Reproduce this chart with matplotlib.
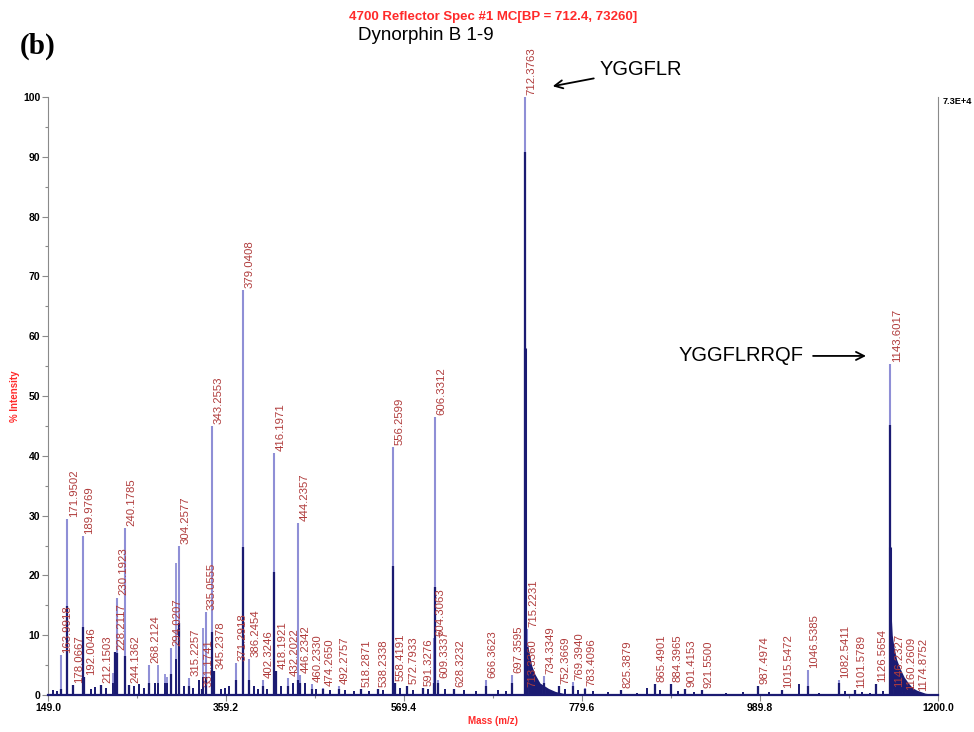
import matplotlib
matplotlib.use('Agg')
import matplotlib.pyplot as plt
from matplotlib.ticker import FixedLocator, MultipleLocator

plt.rcParams['font.family'] = ['Liberation Sans', 'DejaVu Sans']

# ---- labelled peaks: m/z, % intensity, height of the dark (dense) core ----
peak_mz = [163.9918, 171.9502, 178.0667, 189.9769, 192.0046, 212.1503, 228.2117,
           230.1923, 240.1785, 244.1362, 268.2124, 294.0207, 304.2577, 315.2257,
           331.1741, 335.0555, 343.2553, 345.2378, 371.2918, 379.0408, 386.2454,
           402.3246, 416.1971, 418.1921, 432.2022, 444.2357, 446.2342, 460.2330,
           474.2650, 492.2757, 518.2871, 538.2338, 556.2599, 558.4191, 572.7933,
           591.3276, 604.3063, 606.3312, 609.3337, 628.3232, 666.3623, 697.3595,
           712.3763, 713.3360, 715.2231, 734.3349, 752.3669, 769.3940, 783.4096,
           825.3879, 865.4901, 884.3965, 901.4153, 921.5500, 987.4974, 1015.5472,
           1046.5385, 1082.5411, 1101.5789, 1126.5654, 1143.6017, 1146.2327,
           1160.2609, 1174.8752]
peak_int = [6.7, 29.4, 1.7, 26.6, 3.0, 1.7, 7.2,
            16.3, 27.9, 1.7, 5.0, 7.8, 24.9, 2.8,
            1.0, 13.9, 45.0, 4.0, 5.4, 67.7, 6.0,
            2.5, 40.5, 4.0, 2.8, 28.7, 3.3, 1.8,
            1.2, 1.5, 1.0, 1.0, 41.5, 2.0, 1.5,
            1.2, 9.5, 46.5, 2.5, 1.0, 2.5, 3.3,
            100.0, 1.0, 11.0, 3.2, 1.5, 2.2, 1.2,
            0.8, 1.8, 1.8, 1.0, 0.8, 1.5, 0.8,
            4.2, 2.5, 0.8, 1.8, 55.3, 1.0,
            0.5, 0.3]
peak_core = [1.0, 14.9, 1.7, 11.4, 3.0, 1.7, 7.2,
             7.0, 6.5, 1.7, 2.0, 3.5, 12.0, 1.5,
             1.0, 3.0, 10.6, 4.0, 2.5, 24.8, 2.5,
             1.5, 20.6, 4.0, 1.5, 2.5, 2.0, 1.0,
             1.0, 1.0, 1.0, 1.0, 21.6, 2.0, 1.5,
             1.2, 2.0, 18.1, 2.0, 1.0, 1.5, 2.0,
             90.8, 1.0, 8.0, 2.0, 1.5, 1.5, 1.0,
             0.8, 1.8, 1.8, 1.0, 0.8, 1.5, 0.8,
             1.5, 2.0, 0.8, 1.8, 45.2, 1.0,
             0.5, 0.3]

# ---- unlabelled peaks ----
extra_mz = [155, 160, 200, 205, 218, 225.8, 250, 257, 262, 275, 279.3, 287, 290,
            299.8, 310, 320, 327.7, 332.4, 353, 358, 363, 392, 397, 408, 424, 438,
            452, 466, 482, 500, 510, 528, 545, 565, 580, 598, 618, 640, 655, 680,
            690, 760, 775, 793, 810, 845, 856, 872, 893, 912, 950, 970, 1000, 1036,
            1060, 1090, 1110, 1120, 1135]
extra_int = [0.8, 0.6, 1.0, 1.3, 1.2, 3.6, 1.5, 1.8, 1.2, 2.0, 5.0, 3.5, 3.0,
             22.1, 1.5, 1.2, 2.5, 11.2, 1.0, 1.2, 1.5, 1.5, 1.0, 1.0, 1.5, 2.0,
             2.0, 1.0, 0.8, 0.8, 0.6, 0.7, 0.8, 1.2, 0.8, 1.0, 1.0, 0.8, 0.6, 0.8,
             0.6, 1.0, 0.8, 0.6, 0.5, 0.4, 1.2, 0.8, 0.6, 0.5, 0.4, 0.5, 0.5, 1.8,
             0.4, 0.6, 0.5, 0.4, 0.6]
extra_core = [0.8, 0.6, 1.0, 1.3, 1.2, 2.0, 1.5, 1.8, 1.2, 2.0, 2.0, 2.0, 2.0,
              6.0, 1.5, 1.2, 2.5, 3.0, 1.0, 1.2, 1.5, 1.5, 1.0, 1.0, 1.5, 2.0,
              2.0, 1.0, 0.8, 0.8, 0.6, 0.7, 0.8, 1.2, 0.8, 1.0, 1.0, 0.8, 0.6, 0.8,
              0.6, 1.0, 0.8, 0.6, 0.5, 0.4, 1.2, 0.8, 0.6, 0.5, 0.4, 0.5, 0.5, 1.8,
              0.4, 0.6, 0.5, 0.4, 0.6]

# ---- peak tails (dense profile after the two main ions) ----
tail1_mz = [712.4, 713.5, 716, 720, 724, 730, 740, 748, 760, 775]
tail1_int = [15.0, 10.0, 8.0, 5.0, 3.5, 2.0, 1.1, 0.6, 0.2, 0.0]
tail2_mz = [1143.6, 1144.5, 1146, 1148, 1151, 1155, 1160, 1165, 1170, 1175, 1185, 1195]
tail2_int = [15.0, 14.0, 10.0, 8.0, 6.0, 4.5, 3.0, 2.0, 1.2, 0.8, 0.3, 0.1]

x_ticks = [149.0, 359.2, 569.4, 779.6, 989.8, 1200.0]
x_tick_labels = ['149.0', '359.2', '569.4', '779.6', '989.8', '1200.0']
y_ticks = [0, 10, 20, 30, 40, 50, 60, 70, 80, 90, 100]

LIGHT = '#8f8fd6'
DARK = '#1b1b72'
LABEL = '#b03c3c'
RED = '#ff2a2a'

fig = plt.figure(figsize=(9.74, 7.32), dpi=100)
ax = fig.add_axes([48 / 974, 37 / 732, 890 / 974, 598 / 732])
ax.set_xlim(149.0, 1200.0)
ax.set_ylim(0, 100)

ax.vlines(extra_mz, 0, extra_int, colors=LIGHT, lw=1.3)
ax.vlines(extra_mz, 0, extra_core, colors=DARK, lw=1.4)
ax.vlines(peak_mz, 0, peak_int, colors=LIGHT, lw=1.5)
ax.vlines(peak_mz, 0, peak_core, colors=DARK, lw=1.6)
ax.fill_between(tail1_mz, 0, tail1_int, color=DARK, lw=0)
ax.fill_between(tail2_mz, 0, tail2_int, color=DARK, lw=0)
ax.vlines([712.3763], 0, [58.0], colors=DARK, lw=2.2)
ax.vlines([1143.6017], 0, [24.7], colors=DARK, lw=2.2)

for mz, h in zip(peak_mz, peak_int):
    ax.annotate(f'{mz:.4f}', xy=(mz, h), xytext=(1.0, 1.5), textcoords='offset points',
                rotation=90, ha='left', va='bottom', fontsize=8.2, color=LABEL,
                annotation_clip=False)

# axes styling
ax.spines['top'].set_visible(False)
ax.spines['left'].set_color('#8a8a8a')
ax.spines['right'].set_color('#8a8a8a')
ax.spines['bottom'].set_color(DARK)
ax.spines['bottom'].set_linewidth(1.6)
ax.xaxis.set_major_locator(FixedLocator(x_ticks))
ax.set_xticklabels(x_tick_labels)
ax.xaxis.set_minor_locator(FixedLocator([(a + b) / 2 for a, b in zip(x_ticks[:-1], x_ticks[1:])]))
ax.yaxis.set_major_locator(FixedLocator(y_ticks))
ax.yaxis.set_minor_locator(MultipleLocator(5))
ax.tick_params(axis='both', which='major', length=4, width=0.8, color='#8a8a8a',
               labelsize=7.5, pad=1.5)
ax.tick_params(axis='both', which='minor', length=2, width=0.8, color='#8a8a8a')
for t in ax.get_xticklabels() + ax.get_yticklabels():
    t.set_fontweight('bold')

ax.set_xlabel('Mass (m/z)', color=RED, fontsize=7, fontweight='bold')
ax.xaxis.set_label_coords(0.500, -0.035)
ax.set_ylabel('% Intensity', color=RED, fontsize=7, fontweight='bold')
ax.yaxis.set_label_coords(-0.031, 0.50)

# titles and annotations
fig.text(493 / 974, 1 - 17 / 732, '4700 Reflector Spec #1 MC[BP = 712.4, 73260]',
         color=RED, fontsize=9.5, fontweight='bold', ha='center', va='center',
         family=['Liberation Sans Narrow', 'Liberation Sans', 'DejaVu Sans'])
fig.text(358 / 974, 1 - 36 / 732, 'Dynorphin B 1-9', color='black', fontsize=13.5,
         ha='left', va='center')
fig.text(20 / 974, 1 - 46 / 732, '(b)', color='black', fontsize=21, fontweight='bold',
         ha='left', va='center', family=['Liberation Serif', 'DejaVu Serif'])
fig.text(943 / 974, 1 - 101 / 732, '7.3E+4', color='black', fontsize=6.6, fontweight='bold',
         ha='left', va='center')

ax.annotate('YGGFLR', xy=(745, 101.8), xytext=(800, 104.6), textcoords='data',
            fontsize=14.5, ha='left', va='center', annotation_clip=False,
            arrowprops=dict(arrowstyle='->', color='black', lw=1.3, shrinkA=2, shrinkB=0))
ax.annotate('YGGFLRRQF', xy=(1115, 56.7), xytext=(1041, 56.7), textcoords='data',
            fontsize=14.5, ha='right', va='center', annotation_clip=False,
            arrowprops=dict(arrowstyle='->', color='black', lw=1.3, shrinkA=5, shrinkB=0))

fig.savefig('out.png', dpi=100)
